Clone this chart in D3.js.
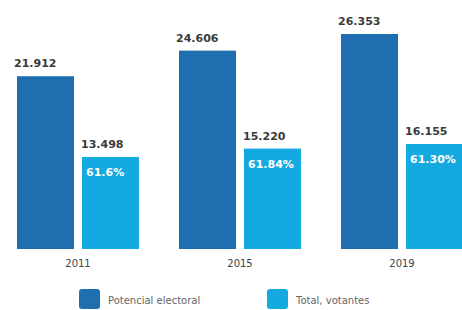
<!DOCTYPE html>
<html>
<head>
<meta charset="utf-8">
<script src="https://cdn.jsdelivr.net/npm/d3@7"></script>
<style>
body { margin: 0; background: #fff; }
svg { display: block; }
</style>
</head>
<body>
<script>
// data
var years = ["2011", "2015", "2019"];
var potencial = [21912, 24606, 26353];
var votantes = [13498, 15220, 16155];
var porcentajes = ["61.6%", "61.84%", "61.30%"];
var series = ["Potencial electoral", "Total, votantes"];

var width = 462, height = 310;
var baseline = 249;

var colors = { "Potencial electoral": "#1e6eb0", "Total, votantes": "#15a9e1" };

var fmt = function(v) { return d3.format(",")(v).replace(/,/g, "."); };

var svg = d3.select("body").append("svg")
    .attr("width", width)
    .attr("height", height);

var x0 = d3.scaleBand()
    .domain(years)
    .range([17, 463])
    .paddingInner(40 / 162)
    .paddingOuter(0);

var x1 = d3.scaleBand()
    .domain(series)
    .range([0, x0.bandwidth()])
    .paddingInner(8 / 65);

// infographic is not drawn to one scale, so each series gets its own
var yPot = d3.scaleLinear().domain([3742, 26353]).range([baseline, 34]);
var yVot = d3.scaleLinear().domain([-5349, 16155]).range([baseline, 144]);

var rows = years.map(function(y, i) {
    return { year: y, pot: potencial[i], vot: votantes[i], pct: porcentajes[i] };
});

var g = svg.selectAll(".grupo")
    .data(rows)
    .enter().append("g")
    .attr("class", "grupo")
    .attr("transform", function(d) { return "translate(" + x0(d.year) + ",0)"; });

// potencial electoral
g.append("rect")
    .attr("x", x1(series[0]))
    .attr("y", function(d) { return yPot(d.pot); })
    .attr("width", x1.bandwidth())
    .attr("height", function(d) { return baseline - yPot(d.pot); })
    .attr("fill", colors[series[0]]);

g.append("text")
    .attr("x", x1(series[0]) - 3)
    .attr("y", function(d) { return yPot(d.pot) - 9; })
    .attr("font-family", "DejaVu Sans, sans-serif")
    .attr("font-weight", "bold")
    .attr("font-size", 11)
    .attr("fill", "#3a3a3a")
    .text(function(d) { return fmt(d.pot); });

// votantes
g.append("rect")
    .attr("x", x1(series[1]))
    .attr("y", function(d) { return yVot(d.vot); })
    .attr("width", x1.bandwidth())
    .attr("height", function(d) { return baseline - yVot(d.vot); })
    .attr("fill", colors[series[1]]);

g.append("text")
    .attr("x", x1(series[1]) - 1)
    .attr("y", function(d) { return yVot(d.vot) - 9; })
    .attr("font-family", "DejaVu Sans, sans-serif")
    .attr("font-weight", "bold")
    .attr("font-size", 11)
    .attr("fill", "#3a3a3a")
    .text(function(d) { return fmt(d.vot); });

g.append("text")
    .attr("x", x1(series[1]) + 4)
    .attr("y", function(d) { return yVot(d.vot) + 19; })
    .attr("font-family", "DejaVu Sans, sans-serif")
    .attr("font-weight", "bold")
    .attr("font-size", 11)
    .attr("fill", "#fff")
    .text(function(d) { return d.pct; });

// years
g.append("text")
    .attr("x", x0.bandwidth() / 2)
    .attr("y", 267)
    .attr("text-anchor", "middle")
    .attr("font-family", "DejaVu Sans, sans-serif")
    .attr("font-size", 10)
    .attr("fill", "#444")
    .text(function(d) { return d.year; });

// legend
var legX = [79, 267];
var leg = svg.selectAll(".leg")
    .data(series)
    .enter().append("g")
    .attr("class", "leg")
    .attr("transform", function(d, i) { return "translate(" + legX[i] + ",289)"; });

leg.append("rect")
    .attr("width", 21)
    .attr("height", 20)
    .attr("rx", 3)
    .attr("fill", function(d) { return colors[d]; });

leg.append("text")
    .attr("x", 29)
    .attr("y", 15)
    .attr("font-family", "DejaVu Sans, sans-serif")
    .attr("font-size", 10)
    .attr("fill", "#666")
    .text(function(d) { return d; });
</script>
</body>
</html>
